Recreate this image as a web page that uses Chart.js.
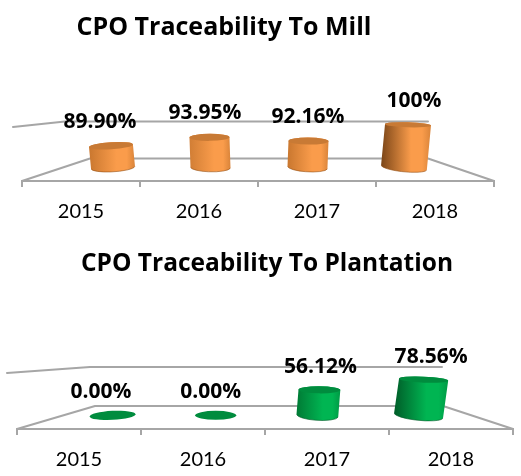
<!DOCTYPE html>
<html>
<head>
<meta charset="utf-8">
<title>CPO Traceability</title>
<script src="https://cdn.jsdelivr.net/npm/chart.js@4"></script>
<style>
    html, body { margin: 0; padding: 0; background: #fff; }
    canvas { position: absolute; left: 0; }
    #millChart { top: 0; }
    #plantationChart { top: 238px; }
</style>
</head>
<body>
<canvas id="millChart" width="521" height="238"></canvas>
<canvas id="plantationChart" width="521" height="238"></canvas>
<script>
const years = ['2015', '2016', '2017', '2018'];
const millValues = [89.90, 93.95, 92.16, 100];
const millLabels = ['89.90%', '93.95%', '92.16%', '100%'];
const plantationValues = [0, 0, 56.12, 78.56];
const plantationLabels = ['0.00%', '0.00%', '56.12%', '78.56%'];

const fontName = 'Lato, "Open Sans", sans-serif';
const boldFontName = '"Open Sans", Lato, sans-serif';
const lineGrey = '#a6a6a6';

// Draws one cylinder standing on the bar element's base
function drawCylinder(ctx, bar, look, i) {
    const rx = bar.width * look.widths[i] / 2;
    const lean = look.leans[i];
    const topTilt = look.topTilts[i];
    const baseTilt = look.baseTilts[i];
    const topRy = look.topRys[i];
    const topX = bar.x - lean / 2;
    const baseX = bar.x + lean / 2;
    const left = Math.min(topX, baseX) - rx;
    const right = Math.max(topX, baseX) + rx;

    ctx.save();
    if (bar.base - bar.y > 1) {
        const side = ctx.createLinearGradient(left, 0, right, 0);
        side.addColorStop(0, look.darks[i]);
        side.addColorStop(0.6, look.light);
        side.addColorStop(0.82, look.light);
        side.addColorStop(1, look.edge);
        ctx.beginPath();
        ctx.ellipse(baseX, bar.base, rx, look.baseRy, baseTilt, 0, Math.PI);
        ctx.ellipse(topX, bar.y, rx, topRy, topTilt, Math.PI, Math.PI * 2);
        ctx.closePath();
        ctx.fillStyle = side;
        ctx.fill();
        ctx.beginPath();
        ctx.ellipse(baseX, bar.base, rx, look.baseRy, baseTilt, 0.1, Math.PI - 0.1);
        ctx.strokeStyle = look.rim;
        ctx.lineWidth = 1;
        ctx.stroke();
    }
    ctx.beginPath();
    ctx.ellipse(topX, bar.y, rx, topRy, topTilt, 0, Math.PI * 2);
    ctx.fillStyle = look.top;
    ctx.fill();
    ctx.restore();
}

// 3D floor, back wall line and cylinders
const cylinderPlugin = {
    id: 'cylinders',
    beforeDatasetDraw(chart, args, opts) {
        const ctx = chart.ctx;
        const a = chart.chartArea;
        ctx.save();
        ctx.strokeStyle = lineGrey;
        ctx.lineWidth = 2;
        ctx.lineJoin = 'round';
        ctx.lineCap = 'round';
        ctx.beginPath();
        ctx.moveTo(a.left, a.bottom);
        ctx.lineTo(opts.backLeft, opts.backY);
        ctx.lineTo(opts.backRight, opts.backY);
        ctx.lineTo(a.right, a.bottom);
        ctx.stroke();
        ctx.beginPath();
        ctx.moveTo(opts.wall[0][0], opts.wall[0][1]);
        opts.wall.slice(1).forEach(function(p) { ctx.lineTo(p[0], p[1]); });
        ctx.stroke();
        ctx.restore();

        args.meta.data.forEach(function(bar, i) {
            drawCylinder(ctx, bar, opts.look, i);
        });
        return false;
    },
    afterDraw(chart, args, opts) {
        const ctx = chart.ctx;
        ctx.save();
        ctx.font = opts.labelFont;
        ctx.fillStyle = '#000';
        ctx.textAlign = 'center';
        ctx.textBaseline = 'middle';
        chart.getDatasetMeta(0).data.forEach(function(bar, i) {
            ctx.fillText(opts.labels[i], bar.x + opts.labelShift[i], bar.y - opts.labelRise);
        });
        ctx.restore();
    },
    afterLayout(chart, args, opts) {
        // the title is not centred on the page in the original
        const half = chart.width / 2;
        chart.titleBlock.left = opts.titleCentre - half;
        chart.titleBlock.right = opts.titleCentre + half;
    }
};

const orangeLook = {
    widths: [1.1, 1, 1, 1.15],
    leans: [2, 1, -1, -4],
    topTilts: [-0.06, -0.01, 0.01, 0.03],
    baseTilts: [-0.06, 0.02, 0.06, 0.1],
    topRys: [3.5, 3.5, 3.5, 2.5],
    darks: ['#c9772f', '#d17e35', '#c9772f', '#7a4517'],
    light: '#fa9c4b',
    edge: '#d9843a',
    rim: 'rgba(150,80,20,0.6)',
    top: '#c87a35',
    baseRy: 4.5
};

const greenLook = {
    widths: [1.12, 1, 1.02, 1.2],
    leans: [1, 0, -2, -5],
    topTilts: [-0.05, 0, 0.01, 0.04],
    baseTilts: [-0.05, 0, 0.06, 0.1],
    topRys: [4.5, 4.5, 3.5, 3],
    darks: ['#007a35', '#007a35', '#007a35', '#005c28'],
    light: '#00b552',
    edge: '#009a45',
    rim: 'rgba(0,90,40,0.6)',
    top: '#008c3e',
    baseRy: 5
};

function makeChart(id, cfg) {
    return new Chart(document.getElementById(id), {
        type: 'bar',
        data: {
            labels: years,
            datasets: [{
                data: cfg.values.map(function(v, i) { return { x: i, y: v }; }),
                base: cfg.base,
                backgroundColor: cfg.color,
                xAxisID: 'xb',
                yAxisID: 'y',
                barThickness: cfg.barWidth
            }]
        },
        options: {
            responsive: false,
            animation: false,
            layout: { padding: cfg.padding },
            plugins: {
                legend: { display: false },
                tooltip: { enabled: false },
                title: {
                    display: true,
                    text: cfg.title,
                    color: '#000',
                    font: { family: boldFontName, size: cfg.titleSize, weight: 'bold' },
                    padding: cfg.titlePadding
                },
                cylinders: cfg.cylinders
            },
            scales: {
                x: {
                    type: 'category',
                    offset: true,
                    grid: { offset: true, drawOnChartArea: false, color: lineGrey, lineWidth: 2, tickLength: 6 },
                    border: { color: lineGrey, width: 2 },
                    ticks: { color: '#000', font: { family: fontName, size: 20 }, padding: 13, maxRotation: 0 },
                    afterFit: function(s) { s.height = 45; }
                },
                // bars stand further back than the front axis, so they get their own narrower spacing
                xb: { type: 'linear', display: false, offset: false, min: cfg.xMin, max: cfg.xMax },
                y: { display: false, min: cfg.yMin, max: cfg.yMax }
            }
        },
        plugins: [cylinderPlugin]
    });
}

// Mill chart
makeChart('millChart', {
    values: millValues,
    base: 79.5,
    color: '#f79646',
    title: 'CPO Traceability To Mill',
    titleSize: 25,
    padding: { left: 22, right: 27, bottom: 12 },
    titlePadding: { top: 13, bottom: 12.6 },
    barWidth: 40,
    xMin: -0.918,
    xMax: 3.898,
    yMin: 72.9,
    yMax: 133.4,
    cylinders: {
        look: orangeLook,
        labels: millLabels,
        labelShift: [-12, -5, 0, 8],
        labelRise: 24,
        labelFont: 'bold 21px ' + boldFontName,
        titleCentre: 224,
        backLeft: 90,
        backRight: 428,
        backY: 158.5,
        wall: [[13, 127], [65, 121.5], [428, 121.5]]
    }
});

// Plantation chart
makeChart('plantationChart', {
    values: plantationValues,
    base: 0,
    color: '#00b050',
    title: 'CPO Traceability To Plantation',
    titleSize: 24.5,
    padding: { left: 17, right: 8, bottom: 2 },
    titlePadding: { top: 11, bottom: 15.2 },
    barWidth: 41,
    xMin: -0.935,
    xMax: 3.895,
    yMin: -30,
    yMax: 268,
    cylinders: {
        look: greenLook,
        labels: plantationLabels,
        labelShift: [-12, -5, 2, 10],
        labelRise: 23,
        labelFont: 'bold 21px ' + boldFontName,
        titleCentre: 267,
        backLeft: 95,
        backRight: 443,
        backY: 168,
        wall: [[7, 135], [90, 129], [442, 129]]
    }
});
</script>
</body>
</html>
